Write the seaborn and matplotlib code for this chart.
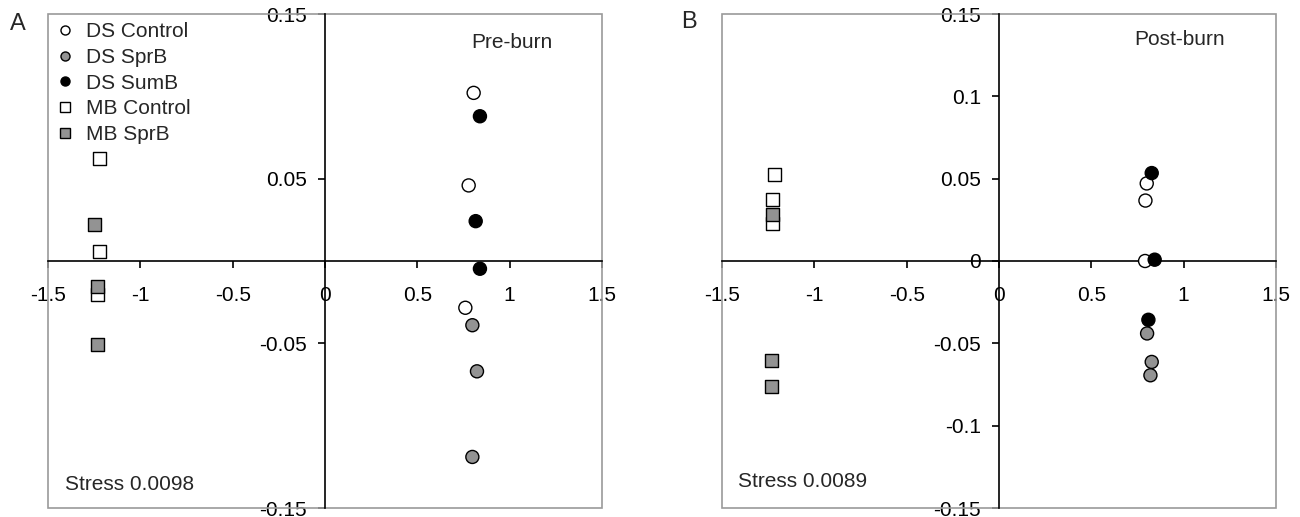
import matplotlib
matplotlib.use("Agg")
import matplotlib.pyplot as plt
from matplotlib.lines import Line2D
from matplotlib.patches import Rectangle
import seaborn as sns
import pandas as pd

sns.set_theme(style="white")
plt.rcParams['font.family'] = ['Liberation Sans', 'DejaVu Sans']

groups = ["DS Control", "DS SprB", "DS SumB", "MB Control", "MB SprB"]

# Panel A (Pre-burn)
pre_ds_control_x = [0.805, 0.778, 0.760]
pre_ds_control_y = [0.1021, 0.0459, -0.0284]
pre_ds_sprb_x = [0.798, 0.823, 0.798]
pre_ds_sprb_y = [-0.0390, -0.0670, -0.1190]
pre_ds_sumb_x = [0.839, 0.816, 0.839]
pre_ds_sumb_y = [0.0879, 0.0242, -0.0047]
pre_mb_control_x = [-1.220, -1.220, -1.233]
pre_mb_control_y = [0.0623, 0.0057, -0.0201]
pre_mb_sprb_x = [-1.249, -1.233, -1.233]
pre_mb_sprb_y = [0.0221, -0.0156, -0.0505]

# Panel B (Post-burn)
post_ds_control_x = [0.800, 0.793, 0.791]
post_ds_control_y = [0.0471, 0.0367, 0.0000]
post_ds_sprb_x = [0.802, 0.827, 0.820]
post_ds_sprb_y = [-0.0440, -0.0613, -0.0694]
post_ds_sumb_x = [0.827, 0.843, 0.809]
post_ds_sumb_y = [0.0534, 0.0008, -0.0357]
post_mb_control_x = [-1.218, -1.227, -1.227]
post_mb_control_y = [0.0526, 0.0373, 0.0225]
post_mb_sprb_x = [-1.227, -1.234, -1.234]
post_mb_sprb_y = [0.0280, -0.0607, -0.0765]

x_ticks = [-1.5, -1, -0.5, 0, 0.5, 1, 1.5]
x_tick_labels = ["-1.5", "-1", "-0.5", "0", "0.5", "1", "1.5"]
yA_ticks = [-0.15, -0.05, 0.05, 0.15]
yA_tick_labels = ["-0.15", "-0.05", "0.05", "0.15"]
yB_ticks = [-0.15, -0.1, -0.05, 0, 0.05, 0.1, 0.15]
yB_tick_labels = ["-0.15", "-0.1", "-0.05", "0", "0.05", "0.1", "0.15"]


def frame(xs_list, ys_list):
    rows = []
    for g, xs, ys in zip(groups, xs_list, ys_list):
        for x, y in zip(xs, ys):
            rows.append({"x": x, "y": y, "group": g})
    return pd.DataFrame(rows)


dfA = frame([pre_ds_control_x, pre_ds_sprb_x, pre_ds_sumb_x, pre_mb_control_x, pre_mb_sprb_x],
            [pre_ds_control_y, pre_ds_sprb_y, pre_ds_sumb_y, pre_mb_control_y, pre_mb_sprb_y])
dfB = frame([post_ds_control_x, post_ds_sprb_x, post_ds_sumb_x, post_mb_control_x, post_mb_sprb_x],
            [post_ds_control_y, post_ds_sprb_y, post_ds_sumb_y, post_mb_control_y, post_mb_sprb_y])

GRAY = "#939393"
palette = {"DS Control": "white", "DS SprB": GRAY, "DS SumB": "black",
           "MB Control": "white", "MB SprB": GRAY}
markers = {"DS Control": "o", "DS SprB": "o", "DS SumB": "o",
           "MB Control": "s", "MB SprB": "s"}

FS = 15
fig = plt.figure(figsize=(13, 5.17), dpi=100)
W, H = 1300, 517
axA = fig.add_axes([48 / W, (H - 508) / H, 554 / W, 494 / H])
axB = fig.add_axes([722 / W, (H - 508) / H, 554 / W, 494 / H])


def style(ax, df, yticks, ylabels):
    sns.scatterplot(data=df, x="x", y="y", hue="group", style="group",
                    palette=palette, markers=markers, s=88, edgecolor="black",
                    linewidth=1.0, legend=False, ax=ax, zorder=3, clip_on=False)
    ax.set_xlim(-1.5, 1.5)
    ax.set_ylim(-0.15, 0.15)
    ax.set_xlabel("")
    ax.set_ylabel("")
    for s in ["top", "right"]:
        ax.spines[s].set_visible(False)
    ax.spines["left"].set_position(("data", 0))
    ax.spines["bottom"].set_position(("data", 0))
    ax.spines["left"].set_color("black")
    ax.spines["bottom"].set_color("black")
    ax.spines["left"].set_linewidth(1.2)
    ax.spines["bottom"].set_linewidth(1.2)
    ax.spines["left"].set_zorder(2)
    ax.spines["bottom"].set_zorder(2)
    ax.add_patch(Rectangle((0, 0), 1, 1, transform=ax.transAxes, fill=False,
                           edgecolor="#9a9a9a", linewidth=1.2, clip_on=False, zorder=1))
    ax.set_xticks(x_ticks)
    ax.set_xticklabels(x_tick_labels)
    ax.set_yticks(yticks)
    ax.set_yticklabels(ylabels)
    ax.tick_params(axis="x", direction="out", length=5, width=1.2, color="black",
                   pad=13, labelsize=FS, labelcolor="black", bottom=True)
    ax.tick_params(axis="y", direction="out", length=5, width=1.2, color="black",
                   pad=8, labelsize=FS, labelcolor="black", left=True)
    ax.set_facecolor("white")
    ax.grid(False)


style(axA, dfA, yA_ticks, yA_tick_labels)
style(axB, dfB, yB_ticks, yB_tick_labels)

axA.text(0.764, 0.943, "Pre-burn", transform=axA.transAxes, fontsize=FS, va="center", ha="left")
axB.text(0.745, 0.949, "Post-burn", transform=axB.transAxes, fontsize=FS, va="center", ha="left")
axA.text(0.031, 0.047, "Stress 0.0098", transform=axA.transAxes, fontsize=FS, va="center", ha="left")
axB.text(0.029, 0.053, "Stress 0.0089", transform=axB.transAxes, fontsize=FS, va="center", ha="left")

fig.text(18 / W, 1 - 24 / H, "A", fontsize=FS + 2, va="center", ha="center")
fig.text(689 / W, 1 - 22 / H, "B", fontsize=FS + 2, va="center", ha="center")

handles = [Line2D([], [], linestyle="none", marker=markers[g], markersize=6.5,
                  markerfacecolor=palette[g], markeredgecolor="black",
                  markeredgewidth=1.0) for g in groups]
axA.legend(handles, groups, loc="upper left", bbox_to_anchor=(0.0, 1.0),
           frameon=False, fontsize=FS, handlelength=0.8, handletextpad=0.6,
           borderpad=0.2, borderaxespad=0.2, labelspacing=0.32)

fig.savefig("out.png", dpi=100, facecolor="white")
